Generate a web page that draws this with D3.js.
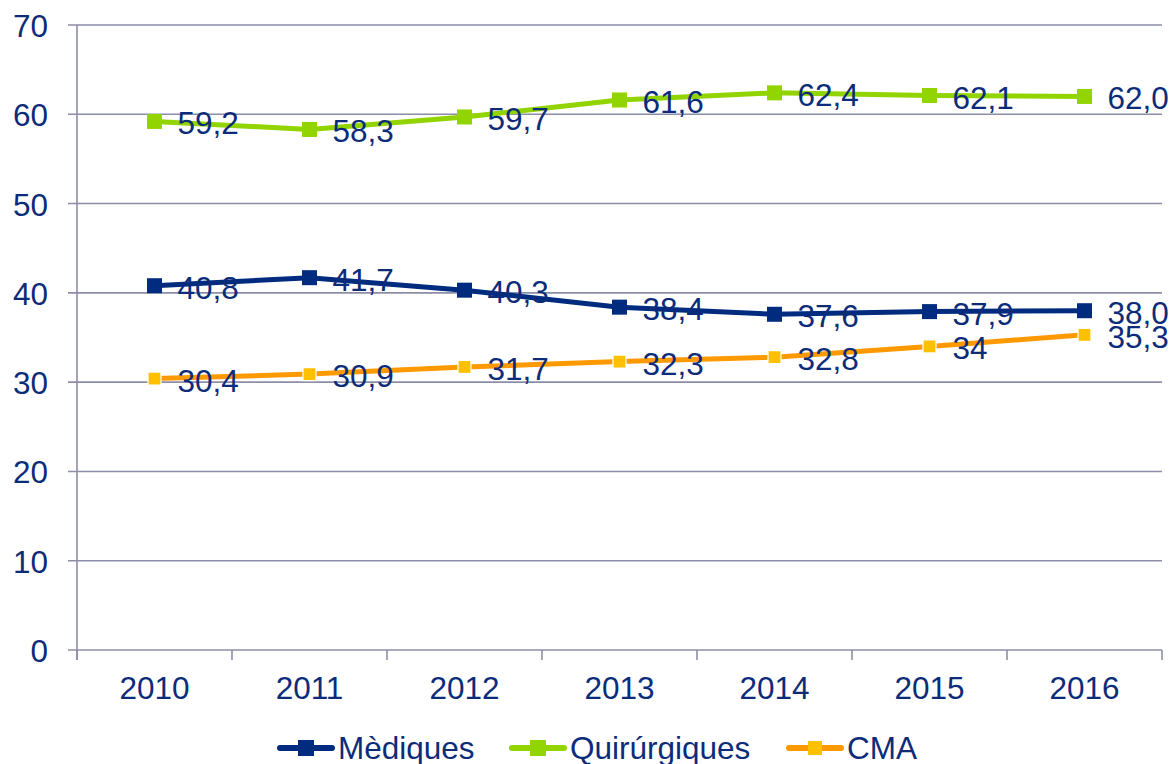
<!DOCTYPE html>
<html><head><meta charset="utf-8">
<script src="https://cdn.jsdelivr.net/npm/d3@7"></script>
<style>body{margin:0;background:#fff}svg{display:block;font-family:"Liberation Sans",Arial,sans-serif}</style>
</head><body>
<svg id="c" width="1172" height="764"></svg>
<script>
const years = ["2010","2011","2012","2013","2014","2015","2016"];
const medValues = [40.8, 41.7, 40.3, 38.4, 37.6, 37.9, 38.0];
const quiValues = [59.2, 58.3, 59.7, 61.6, 62.4, 62.1, 62.0];
const cmaValues = [30.4, 30.9, 31.7, 32.3, 32.8, 34, 35.3];
const medLabels = ["40,8","41,7","40,3","38,4","37,6","37,9","38,0"];
const quiLabels = ["59,2","58,3","59,7","61,6","62,4","62,1","62,0"];
const cmaLabels = ["30,4","30,9","31,7","32,3","32,8","34","35,3"];
const yTicks = [0,10,20,30,40,50,60,70];
const seriesNames = ["Mèdiques","Quirúrgiques","CMA"];

const textColor = "#0c2c7a", gridColor = "#8c8ea8";
const FS = 31.5;
const series = [
  {name: seriesNames[0], values: medValues, labels: medLabels, line: "#002b7f", marker: "#002b7f", ms: 15},
  {name: seriesNames[1], values: quiValues, labels: quiLabels, line: "#92d400", marker: "#92d400", ms: 15},
  {name: seriesNames[2], values: cmaValues, labels: cmaLabels, line: "#ff9900", marker: "#ffc000", ms: 13}
];

const svg = d3.select("#c");
const L = 77, R = 1162, T = 25, B = 650;
const x = d3.scaleBand().domain(years).range([L, R]);
const y = d3.scaleLinear().domain([0, 70]).range([B, T]);

// gridlines
svg.append("g").selectAll("line").data(yTicks).join("line")
  .attr("x1", L - 9).attr("x2", R).attr("y1", d => y(d)).attr("y2", d => y(d))
  .attr("stroke", gridColor).attr("stroke-width", 1.6);

// y axis line
svg.append("line").attr("x1", L).attr("x2", L).attr("y1", T).attr("y2", B + 10)
  .attr("stroke", gridColor).attr("stroke-width", 1.6);

// x ticks
const xTickPos = years.map(d => x(d)).concat([R]);
svg.append("g").selectAll("line").data(xTickPos).join("line")
  .attr("x1", d => d).attr("x2", d => d).attr("y1", B).attr("y2", B + 10)
  .attr("stroke", gridColor).attr("stroke-width", 1.6);

// y labels
svg.append("g").selectAll("text").data(yTicks).join("text")
  .attr("x", 48).attr("y", d => y(d) + 1).attr("dy", "0.35em")
  .attr("text-anchor", "end").attr("fill", textColor).attr("font-size", FS)
  .text(d => d);

// x labels
svg.append("g").selectAll("text").data(years).join("text")
  .attr("x", d => x(d) + x.bandwidth() / 2).attr("y", 699)
  .attr("text-anchor", "middle").attr("fill", textColor).attr("font-size", FS)
  .text(d => d);

const cx = d => x(d) + x.bandwidth() / 2;
const line = d3.line().x(d => cx(d.year)).y(d => y(d.v));

series.forEach(s => {
  const pts = years.map((yr, i) => ({year: yr, v: s.values[i], lab: s.labels[i]}));
  const g = svg.append("g");
  g.append("path").datum(pts).attr("d", line).attr("fill", "none")
    .attr("stroke", s.line).attr("stroke-width", 5);
  g.selectAll("rect").data(pts).join("rect")
    .attr("x", d => cx(d.year) - s.ms / 2).attr("y", d => y(d.v) - s.ms / 2)
    .attr("width", s.ms).attr("height", s.ms).attr("fill", s.marker)
    .attr("stroke", s.name === "CMA" ? "#fff" : "none").attr("stroke-width", 1.2);
  g.selectAll("text").data(pts).join("text")
    .attr("x", d => cx(d.year) + 23).attr("y", d => y(d.v) + 2).attr("dy", "0.35em")
    .attr("fill", textColor).attr("font-size", FS).text(d => d.lab);
});

// legend
const legX = [278, 510, 787];
const legY = 748;
series.forEach((s, i) => {
  const g = svg.append("g").attr("transform", `translate(${legX[i]},${legY})`);
  g.append("line").attr("x1", 2).attr("x2", 54).attr("y1", 0).attr("y2", 0)
    .attr("stroke", s.line).attr("stroke-width", 6).attr("stroke-linecap", "round");
  const m = s.ms + 1;
  g.append("rect").attr("x", 28 - m / 2).attr("y", -m / 2).attr("width", m).attr("height", m)
    .attr("fill", s.marker);
  g.append("text").attr("x", 60).attr("y", 0).attr("dy", "0.35em")
    .attr("fill", textColor).attr("font-size", FS).text(s.name);
});
</script>
</body></html>
